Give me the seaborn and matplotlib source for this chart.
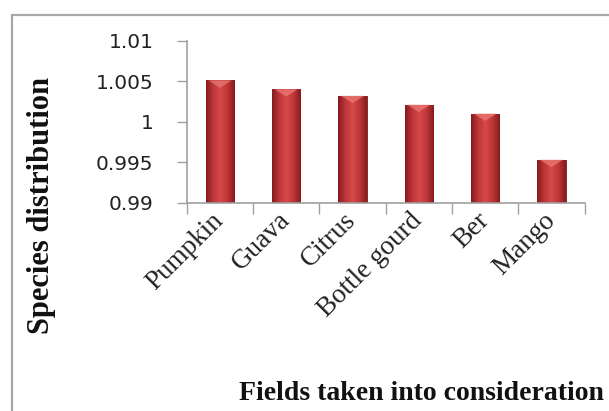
import numpy as np
import pandas as pd
import matplotlib
matplotlib.use("Agg")
import matplotlib.pyplot as plt
from matplotlib.patches import Rectangle, Polygon
from matplotlib.colors import LinearSegmentedColormap
from matplotlib import font_manager
import seaborn as sns

fields = ["Pumpkin", "Guava", "Citrus", "Bottle gourd", "Ber", "Mango"]
distribution = [1.0051, 1.0040, 1.0032, 1.0021, 1.0010, 0.9953]
y_ticks = [0.99, 0.995, 1.0, 1.005, 1.01]
y_tick_labels = ["0.99", "0.995", "1", "1.005", "1.01"]
y_floor = 0.99

df = pd.DataFrame({"field": fields, "value": distribution})

sns.set_theme(style="white")
plt.rcParams["font.family"] = ["Liberation Serif", "DejaVu Serif"]

installed = {f.name for f in font_manager.fontManager.ttflist}
tick_font = "Liberation Sans Narrow" if "Liberation Sans Narrow" in installed else "DejaVu Sans"

fig = plt.figure(figsize=(6.09, 4.11), dpi=100)
ax = fig.add_axes([0.3067, 0.5068, 0.6531, 0.3939])

sns.barplot(data=df, x="field", y="value", color="#C43B3D", width=0.43,
            edgecolor="#7E1A1B", linewidth=0.6, ax=ax, saturation=1)

# bars rise from the axis floor; add a bevelled shading and a lighter cap
shade = LinearSegmentedColormap.from_list(
    "bevel", ["#861C1E", "#BE3638", "#D6494A", "#BE3638", "#861C1E"])
grad = np.linspace(0, 1, 64).reshape(1, -1)
for bar in ax.patches[:len(fields)]:
    top = bar.get_y() + bar.get_height()
    bar.set_y(y_floor)
    bar.set_height(top - y_floor)
    x0, w = bar.get_x(), bar.get_width()
    im = ax.imshow(grad, cmap=shade, aspect="auto",
                   extent=[x0, x0 + w, y_floor, top], zorder=bar.get_zorder() + 0.1)
    im.set_clip_path(bar)
    cap = 0.0009
    tri = Polygon([[x0 + w * 0.1, top], [x0 + w * 0.9, top],
                   [x0 + w * 0.5, top - cap]], closed=True,
                  facecolor="#E5736E", edgecolor="none", alpha=0.85,
                  zorder=bar.get_zorder() + 0.2)
    ax.add_patch(tri)
ax.set_ylim(0.99, 1.01)
ax.set_xlim(-0.5, len(fields) - 0.5)

ax.set_yticks(y_ticks)
ax.set_yticklabels(y_tick_labels, family=[tick_font, "DejaVu Sans"],
                   fontsize=14.5, color="#222222")
ax.set_xticks(range(len(fields)))
ax.set_xticklabels(fields, rotation=45, ha="right", va="center",
                   rotation_mode="anchor", fontsize=19.5, color="#222222")
ax.set_xticks(np.arange(-0.5, len(fields), 1.0), minor=True)
ax.tick_params(axis="x", which="major", length=0, pad=10)
ax.tick_params(axis="x", which="minor", length=8, width=1, color="#A0A0A0",
               direction="out", bottom=True)
ax.tick_params(axis="y", length=7, width=1, color="#A0A0A0", direction="out",
               left=True, pad=17)

for side in ["top", "right"]:
    ax.spines[side].set_visible(False)
for side in ["left", "bottom"]:
    ax.spines[side].set_color("#A0A0A0")
    ax.spines[side].set_linewidth(1.2)
ax.set_xlabel("")
ax.set_ylabel("")

fig.text(42 / 609, 1 - 205 / 411, "Species distribution", rotation=90,
         ha="center", va="center", fontsize=22, fontweight="bold", color="#111111")
fig.text(421 / 609, 1 - 393 / 411, "Fields taken into consideration",
         ha="center", va="center", fontsize=20, fontweight="bold", color="#111111")

border_top = 1 - 15.5 / 411
fig.add_artist(Rectangle((11.5 / 609, -0.2), 1.2, border_top + 0.2,
                         transform=fig.transFigure, fill=False,
                         edgecolor="#A8A8A8", linewidth=1.6))

fig.savefig("out.png", dpi=100, facecolor="white")
